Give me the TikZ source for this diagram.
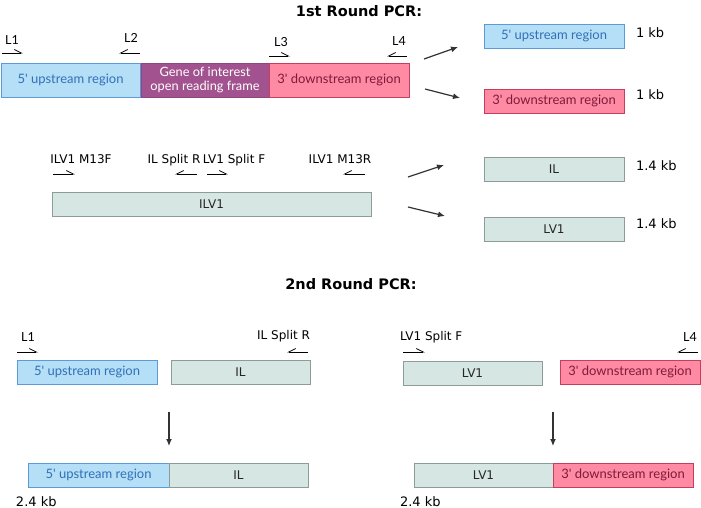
\documentclass[tikz,border=0pt]{standalone}
\usepackage{fontspec}
\setmainfont{DejaVu Sans}
\newfontfamily\boxfont{Lato}
\usetikzlibrary{positioning}
\usetikzlibrary{arrows.meta}
\definecolor{upfill}{HTML}{B5DFF7}
\definecolor{upline}{HTML}{5A9BD8}
\definecolor{uptext}{HTML}{3170B8}
\definecolor{genefill}{HTML}{A2538F}
\definecolor{geneline}{HTML}{8E4580}
\definecolor{downfill}{HTML}{FF8AA3}
\definecolor{downline}{HTML}{C63E5E}
\definecolor{downtext}{HTML}{7E1A3A}
\definecolor{ilvfill}{HTML}{D6E6E2}
\definecolor{ilvline}{HTML}{8E9C99}
\definecolor{arrowgrey}{HTML}{333333}
\tikzset{
	x=1pt, y=-1pt,
	every node/.style={inner sep=0pt, outer sep=0pt},
	region/.style={draw, line width=0.9pt, minimum height=24pt, align=center, anchor=north west},
	upstream/.style={region, fill=upfill, draw=upline, text=uptext, font=\boxfont\fontsize{13}{15}\selectfont},
	gene/.style={region, fill=genefill, draw=geneline, text=white, font=\boxfont\fontsize{12.8}{13.5}\selectfont},
	downstream/.style={region, fill=downfill, draw=downline, text=downtext, font=\boxfont\fontsize{13}{15}\selectfont},
	ilv/.style={region, fill=ilvfill, draw=ilvline, text=black!85, font=\fontsize{12}{14}\selectfont},
	title/.style={font=\fontsize{14.5}{17}\selectfont\bfseries},
	primerlabel/.style={font=\fontsize{12}{14}\selectfont, anchor=base},
	llabel/.style={font=\boxfont\fontsize{12.5}{14}\selectfont, anchor=base},
	size/.style={font=\fontsize{13}{15}\selectfont, anchor=base west},
	fwd/.style={line width=0.8pt, -{Straight Barb[harpoon, length=7pt, width=7pt, line width=0.8pt]}},
	rev/.style={line width=0.8pt, -{Straight Barb[harpoon, swap, length=7pt, width=7pt, line width=0.8pt]}},
	flow/.style={line width=1.2pt, draw=arrowgrey, -{Latex[length=7pt, width=6pt]}}
}
\begin{document}
\begin{tikzpicture}
	\useasboundingbox (0,0) rectangle (701,508);
	% 1st round
	\node[title] (t1) at (359,11) {1st Round PCR:};
	
	\node[upstream, minimum width=139pt, minimum height=34pt] (up) at (1,63) {5\textquotesingle{} upstream region};
	\node[gene, minimum width=128pt, minimum height=34pt] (goi) at (141,63) {Gene of interest\\open reading frame};
	\node[downstream, minimum width=140pt, minimum height=34pt] (down) at (269,63) {3\textquotesingle{} downstream region};
	
	\node[llabel] (l1) at (12,45) {L1};
	\node[llabel] (l2) at (131,43) {L2};
	\node[llabel] (l3) at (281,47) {L3};
	\node[llabel] (l4) at (399,46) {L4};
	\draw[fwd] (2,53) -- (23,53);
	\draw[rev] (140,53) -- (119,53);
	\draw[fwd] (269,56) -- (290,56);
	\draw[rev] (407,56) -- (387,56);
	
	\node[upstream, minimum width=140pt] (upout) at (484,24) {5\textquotesingle{} upstream region};
	\node[downstream, minimum width=140pt] (downout) at (484,89) {3\textquotesingle{} downstream region};
	\node[size] (kb1) at (636,38) {1 kb};
	\node[size] (kb2) at (636,100) {1 kb};
	
	\coordinate (a1s) at (424,59);
	\coordinate (a1e) at (458,47);
	\coordinate (a2s) at (425,89);
	\coordinate (a2e) at (460,98);
	\draw[flow] (a1s) -- (a1e);
	\draw[flow] (a2s) -- (a2e);
	
	% ILV1
	\node[ilv, minimum width=319pt] (ilv1) at (52,192) {ILV1};
	\node[primerlabel] (m13f) at (81,164) {ILV1 M13F};
	\node[primerlabel] (splitr) at (174,164) {IL Split R};
	\node[primerlabel] (splitf) at (234,164) {LV1 Split F};
	\node[primerlabel] (m13r) at (340,164) {ILV1 M13R};
	\draw[fwd] (53,174) -- (75,174);
	\draw[rev] (197,174) -- (175,174);
	\draw[fwd] (207,174) -- (228,174);
	\draw[rev] (365,174) -- (343,174);
	
	\node[ilv, minimum width=140pt] (ilout) at (484,157) {IL};
	\node[ilv, minimum width=140pt] (lvout) at (484,217) {LV1};
	\node[size] (kb3) at (636,170) {1.4 kb};
	\node[size] (kb4) at (636,228) {1.4 kb};
	
	\coordinate (a3s) at (408,177);
	\coordinate (a3e) at (444,165);
	\coordinate (a4s) at (408,207);
	\coordinate (a4e) at (445,216);
	\draw[flow] (a3s) -- (a3e);
	\draw[flow] (a4s) -- (a4e);
	
	% 2nd round
	\node[title] (t2) at (351,284) {2nd Round PCR:};
	
	\node[upstream, minimum width=140pt] (upleft) at (17,360) {5\textquotesingle{} upstream region};
	\node[ilv, minimum width=139pt] (illeft) at (171,360) {IL};
	\node[llabel] (l1b) at (28,341) {L1};
	\node[primerlabel, anchor=base east] (splitrb) at (310,339) {IL Split R};
	\draw[fwd] (17,352) -- (38,352);
	\draw[rev] (308,352) -- (287,352);
	
	\node[ilv, minimum width=139pt] (lvright) at (403,361) {LV1};
	\node[downstream, minimum width=140pt] (downright) at (560,360) {3\textquotesingle{} downstream region};
	\node[primerlabel, anchor=base west] (splitfb) at (400,340) {LV1 Split F};
	\node[llabel] (l4b) at (690,341) {L4};
	\draw[fwd] (403,352) -- (425,352);
	\draw[rev] (698,352) -- (677,352);
	
	\coordinate (a5s) at (169,412);
	\coordinate (a5e) at (169,446);
	\coordinate (a6s) at (553,412);
	\coordinate (a6e) at (553,446);
	\draw[flow] (a5s) -- (a5e);
	\draw[flow] (a6s) -- (a6e);
	
	\node[upstream, minimum width=141pt] (upjoin) at (28,463) {5\textquotesingle{} upstream region};
	\node[ilv, minimum width=139pt] (iljoin) at (169,463) {IL};
	\node[size, anchor=base west] (kb5) at (16,506) {2.4 kb};
	
	\node[ilv, minimum width=139pt] (lvjoin) at (414,463) {LV1};
	\node[downstream, minimum width=140pt] (downjoin) at (553,463) {3\textquotesingle{} downstream region};
	\node[size, anchor=base west] (kb6) at (400,506) {2.4 kb};
\end{tikzpicture}
\end{document}
